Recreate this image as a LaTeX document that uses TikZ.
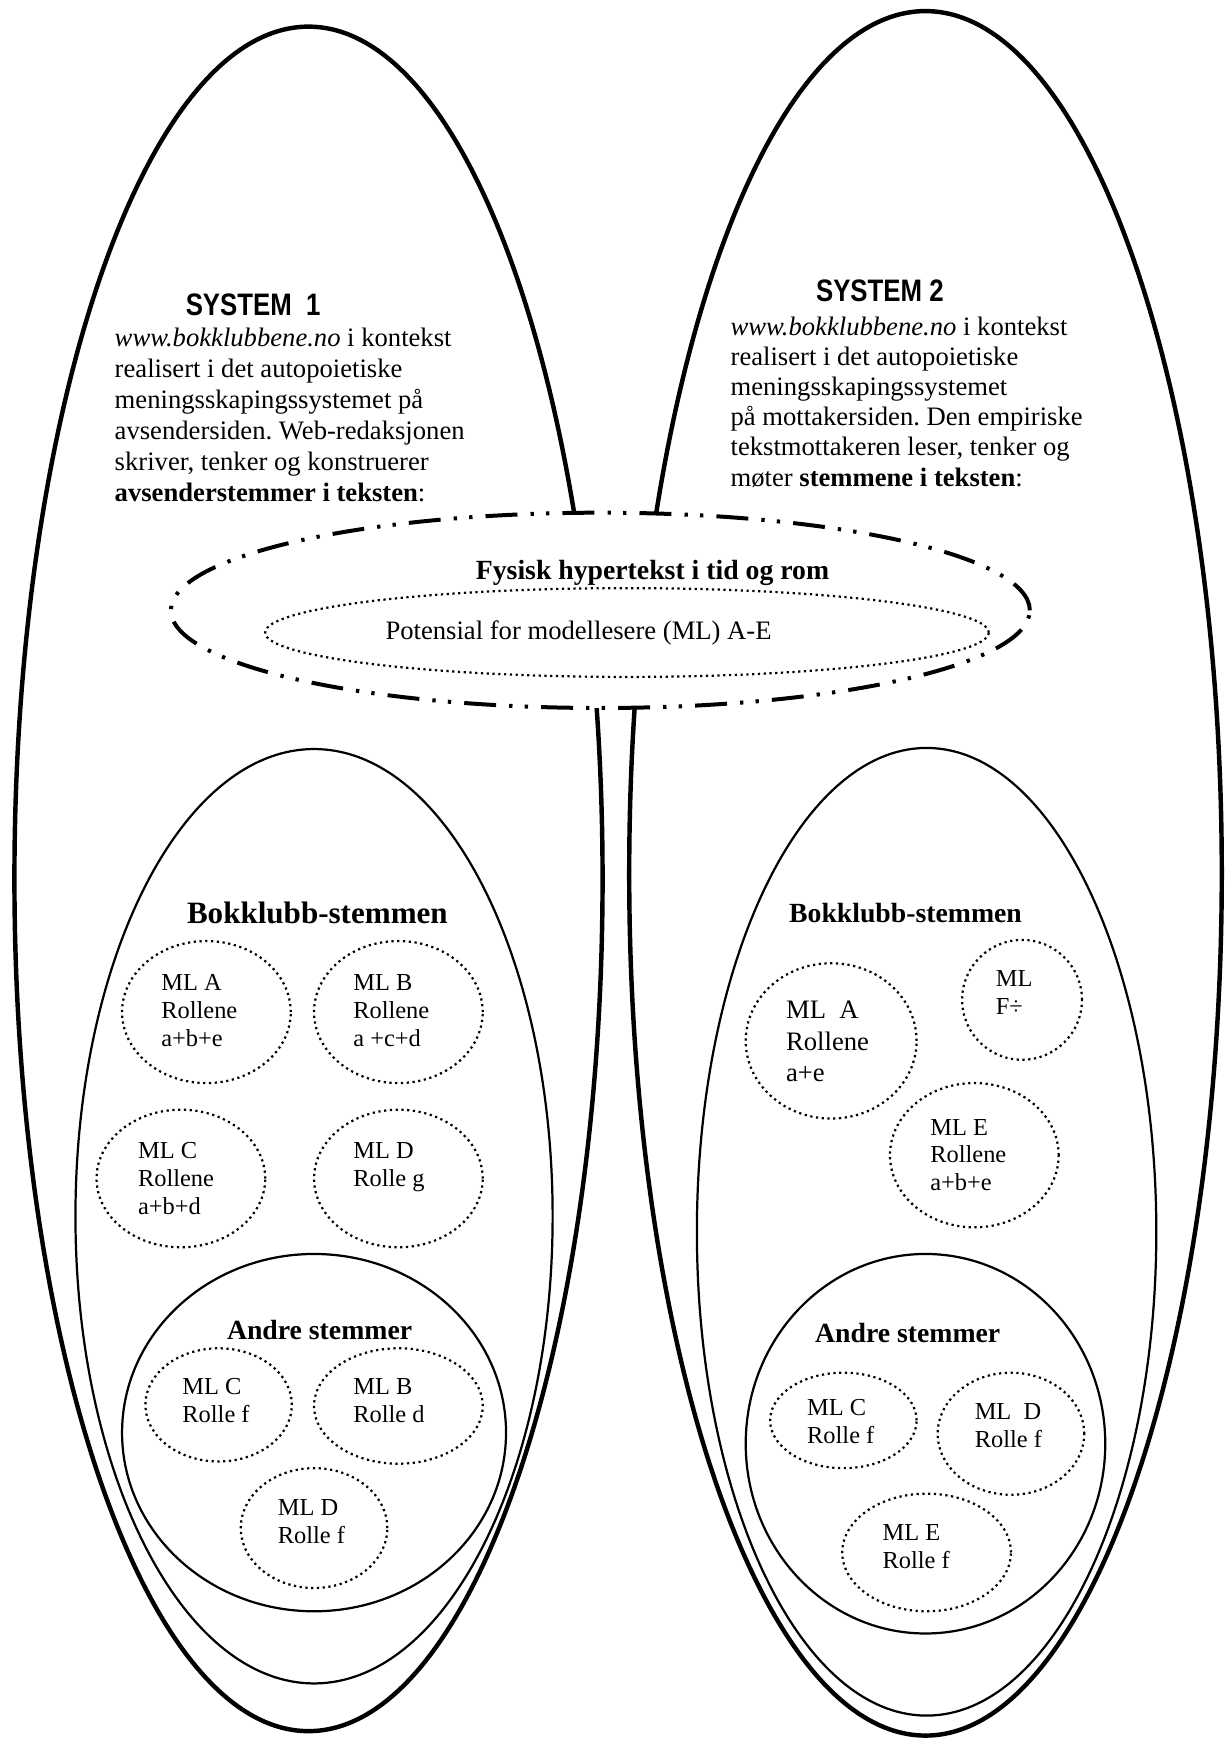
\documentclass[tikz,border=0pt]{standalone}
\usepackage{fontspec}
\setmainfont{Liberation Serif}
\newfontfamily\titlefont[FakeStretch=0.83]{Liberation Sans}
\usetikzlibrary{shapes.geometric}
\frenchspacing
\begin{document}
\begin{tikzpicture}[x=0.5pt,y=-0.5pt,
  sysell/.style={draw, line width=2pt, ellipse, inner sep=0pt, outer sep=0pt},
  voiceell/.style={draw, line width=1pt, ellipse, inner sep=0pt, outer sep=0pt},
  mlell/.style={draw, line width=1pt, dash pattern=on 1pt off 1.6pt, ellipse, inner sep=0pt, outer sep=0pt},
  fysell/.style={draw, fill=white, line width=1.8pt, dash pattern=on 14.4pt off 5.9pt on 1.5pt off 5.5pt on 1.5pt off 5.9pt, ellipse, inner sep=0pt, outer sep=0pt},
  mltext/.style={anchor=base west, inner sep=0pt, align=left, font=\fontsize{11}{12.5}\selectfont},
  mltextbig/.style={anchor=base west, inner sep=0pt, align=left, font=\fontsize{12}{14.3}\selectfont},
  systitle/.style={anchor=base west, inner sep=0pt, font=\titlefont\bfseries\fontsize{14}{16}\selectfont},
  bodytext/.style={anchor=base west, inner sep=0pt, align=left},
  heading/.style={anchor=base, inner sep=0pt, font=\bfseries\fontsize{12.5}{14}\selectfont}
]
\useasboundingbox (0,0) rectangle (1106,1568);

% system ellipses
\node[sysell, minimum width=265pt, minimum height=768pt] (sys1) at (278,792) {};
\node[sysell, minimum width=267pt, minimum height=777pt] (sys2) at (834,787) {};

% voice ellipses
\node[voiceell, minimum width=215pt, minimum height=421pt] (bk1) at (283,1096) {};
\node[voiceell, minimum width=207pt, minimum height=436pt] (bk2) at (835,1110) {};
\node[voiceell, minimum width=173pt, minimum height=161pt] (an1) at (283,1291) {};
\node[voiceell, minimum width=162pt, minimum height=171pt] (an2) at (834,1301) {};

% physical hypertext
\node[fysell, minimum width=387pt, minimum height=88pt] (fys) at (541,550) {};
\node[mlell, minimum width=326pt, minimum height=40pt] (pot) at (565,570) {};
\node[heading] (fystxt) at (588,522) {Fysisk hypertekst i tid og rom};
\node[anchor=base west, inner sep=0pt, font=\fontsize{12}{14}\selectfont] (pottxt) at (347,576) {Potensial for modellesere (ML) A-E};

% titles and descriptions (base anchor = last line)
\node[systitle] (t1) at (167,284) {SYSTEM~~1};
\node[systitle] (t2) at (735,272) {SYSTEM 2};
\node[bodytext, font=\fontsize{12}{14}\selectfont] (d1) at (103,452) {\textit{www.bokklubbene.no} i kontekst\\
realisert i det autopoietiske\\
meningsskapingssystemet på\\
avsendersiden. Web-redaksjonen\\
skriver, tenker og konstruerer\\
\textbf{avsenderstemmer i teksten}:};
\node[bodytext, font=\fontsize{12}{13.6}\selectfont] (d2) at (658,438) {\textit{www.bokklubbene.no} i kontekst\\
realisert i det autopoietiske\\
meningsskapingssystemet\\
på mottakersiden. Den empiriske\\
tekstmottakeren leser, tenker og\\
møter \textbf{stemmene i teksten}:};

% headings
\node[heading, font=\bfseries\fontsize{14}{16}\selectfont] (bkt1) at (286,832) {Bokklubb-stemmen};
\node[heading] (bkt2) at (816,831) {Bokklubb-stemmen};
\node[heading] (ant1) at (288,1207) {Andre stemmer};
\node[heading] (ant2) at (818,1210) {Andre stemmer};

% System 1 model readers
\node[mlell, minimum width=76pt, minimum height=64pt] (a1) at (186,912) {};
\node[mlell, minimum width=76pt, minimum height=64pt] (b1) at (359,912) {};
\node[mlell, minimum width=76pt, minimum height=62pt] (c1) at (163,1062) {};
\node[mlell, minimum width=76pt, minimum height=62pt] (dd1) at (359,1062) {};
\node[mlell, minimum width=66pt, minimum height=51pt] (ac1) at (197,1266) {};
\node[mlell, minimum width=76pt, minimum height=52pt] (ab1) at (359,1267) {};
\node[mlell, minimum width=66pt, minimum height=54pt] (ad1) at (283,1377) {};
\node[mltext] (a1t) at (145,943) {ML A\\Rollene\\a+b+e};
\node[mltext] (b1t) at (318,943) {ML B\\Rollene\\a +c+d};
\node[mltext] (c1t) at (124,1094) {ML C\\Rollene\\a+b+d};
\node[mltext] (dd1t) at (318,1069) {ML D\\Rolle g};
\node[mltext] (ac1t) at (164,1282) {ML C\\Rolle f};
\node[mltext] (ab1t) at (318,1282) {ML B\\Rolle d};
\node[mltext] (ad1t) at (250,1391) {ML D\\Rolle f};

% System 2 model readers
\node[mlell, minimum width=77pt, minimum height=70pt] (a2) at (749,938) {};
\node[mlell, minimum width=54pt, minimum height=54pt] (f2) at (921,901) {};
\node[mlell, minimum width=76pt, minimum height=65pt] (e2) at (878,1041) {};
\node[mlell, minimum width=66pt, minimum height=43pt] (ac2) at (760,1280) {};
\node[mlell, minimum width=66pt, minimum height=55pt] (ad2) at (911,1292) {};
\node[mlell, minimum width=76pt, minimum height=53pt] (ae2) at (835,1399) {};
\node[mltextbig] (a2t) at (708,975) {ML~~A\\Rollene\\a+e};
\node[mltext] (f2t) at (897,914) {ML\\F÷};
\node[mltext] (e2t) at (838,1073) {ML E\\Rollene\\a+b+e};
\node[mltext] (ac2t) at (727,1301) {ML C\\Rolle f};
\node[mltext] (ad2t) at (878,1304) {ML~~D\\Rolle f};
\node[mltext] (ae2t) at (795,1413) {ML E\\Rolle f};
\end{tikzpicture}
\end{document}
